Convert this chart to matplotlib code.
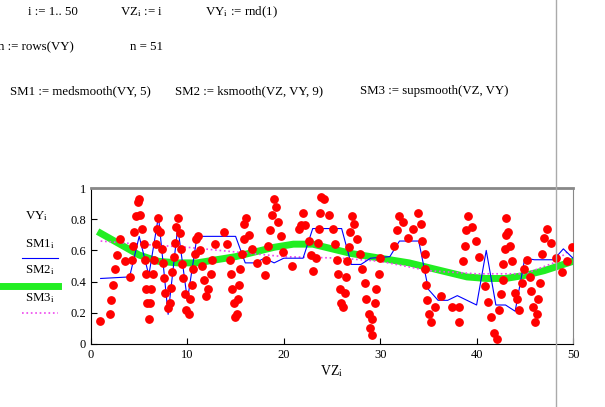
import matplotlib
matplotlib.use("Agg")
import matplotlib.pyplot as plt
from matplotlib.lines import Line2D

plt.rcParams["font.family"] = "Liberation Serif"
plt.rcParams["mathtext.fontset"] = "stix"

# scatter of VY against VZ
VZ = [0.97, 2.0, 2.1, 2.3, 2.5, 2.7, 2.97, 3.56, 4.0, 4.3, 4.4, 4.5, 4.7, 4.9, 5.0, 5.1,
      5.3, 5.5, 5.6, 5.7, 5.7, 5.8, 6.0, 6.1, 6.2, 6.4, 6.5, 6.7, 6.8, 7.0, 7.2, 7.4,
      7.5, 7.6, 7.7, 8.0, 8.15, 8.3, 8.4, 8.6, 8.7, 8.8, 9.0, 9.2, 9.3, 9.4, 9.5, 9.7,
      9.9, 10.2, 10.3, 10.5, 10.6, 10.8, 10.9, 11.1, 11.3, 11.5, 11.7, 11.9, 12.1, 12.4,
      12.6, 12.9, 13.8, 14.1, 14.4, 14.5, 14.6, 14.8, 14.9, 15.1, 15.2, 15.4, 15.5, 15.7,
      15.9, 15.9, 16.1, 16.4, 16.7, 17.2, 18.1, 18.2, 18.4, 18.6, 18.8, 18.96, 19.2, 19.4,
      19.7, 19.9, 20.8, 21.6, 21.8, 22.0, 22.2, 22.6, 22.8, 23.0, 23.3, 23.5, 23.6, 23.8,
      23.9, 24.2, 24.7, 25.1, 25.3, 25.5, 25.6, 25.8, 25.9, 26.1, 26.3, 26.5, 26.6, 26.8,
      26.9, 27.1, 27.3, 27.6, 27.9, 28.1, 28.4, 28.5, 28.8, 28.9, 29.2, 29.2, 29.5, 29.6,
      29.9, 29.96, 31.4, 31.7, 31.9, 32.4, 32.9, 33.4, 33.9, 34.2, 34.3, 34.6, 34.6, 34.7,
      34.9, 35.1, 35.3, 35.7, 36.3, 37.4, 38.2, 38.2, 38.6, 38.8, 38.9, 39.1, 39.5, 39.9,
      40.2, 40.9, 41.2, 41.5, 41.8, 42.1, 42.3, 42.5, 42.7, 42.7, 42.9, 43.0, 43.1, 43.3,
      43.5, 43.7, 44.0, 44.2, 44.4, 44.7, 44.9, 45.2, 45.5, 45.6, 45.8, 46.1, 46.3, 46.4,
      46.6, 46.8, 47.0, 47.3, 47.7, 48.2, 48.9, 49.4, 49.9]
VY = [0.15, 0.19, 0.28, 0.38, 0.48, 0.57, 0.67, 0.53, 0.43, 0.54, 0.63, 0.72, 0.82, 0.91,
      0.93, 0.83, 0.74, 0.64, 0.54, 0.45, 0.35, 0.26, 0.16, 0.26, 0.35, 0.45, 0.54, 0.64,
      0.74, 0.81, 0.72, 0.61, 0.52, 0.42, 0.33, 0.23, 0.26, 0.36, 0.46, 0.56, 0.65, 0.75,
      0.81, 0.71, 0.61, 0.51, 0.42, 0.32, 0.22, 0.19, 0.29, 0.38, 0.48, 0.58, 0.67, 0.69,
      0.60, 0.50, 0.41, 0.31, 0.35, 0.45, 0.54, 0.64, 0.72, 0.64, 0.54, 0.45, 0.35, 0.26,
      0.17, 0.19, 0.29, 0.38, 0.48, 0.58, 0.67, 0.77, 0.81, 0.70, 0.61, 0.52, 0.44, 0.54,
      0.63, 0.73, 0.83, 0.93, 0.88, 0.78, 0.69, 0.59, 0.50, 0.74, 0.76, 0.84, 0.76, 0.66,
      0.57, 0.47, 0.55, 0.65, 0.74, 0.84, 0.94, 0.93, 0.83, 0.74, 0.64, 0.54, 0.45, 0.35,
      0.26, 0.24, 0.33, 0.43, 0.53, 0.62, 0.72, 0.82, 0.77, 0.67, 0.58, 0.48, 0.39, 0.29,
      0.19, 0.10, 0.06, 0.16, 0.26, 0.35, 0.45, 0.55, 0.63, 0.73, 0.82, 0.78, 0.68, 0.74,
      0.84, 0.77, 0.66, 0.58, 0.48, 0.38, 0.28, 0.19, 0.14, 0.24, 0.31, 0.24, 0.24, 0.14,
      0.53, 0.63, 0.73, 0.82, 0.75, 0.66, 0.56, 0.37, 0.27, 0.17, 0.07, 0.03, 0.22, 0.32,
      0.41, 0.51, 0.61, 0.70, 0.81, 0.72, 0.63, 0.53, 0.33, 0.29, 0.22, 0.39, 0.48, 0.54,
      0.43, 0.34, 0.24, 0.14, 0.19, 0.29, 0.39, 0.58, 0.68, 0.74, 0.65, 0.55, 0.46, 0.53,
      0.62]

SM1_X = [1, 4, 5, 6, 7, 8, 9, 10, 11, 15, 16, 17, 18, 19, 20, 22, 23, 26, 27, 28, 29, 31,
         32, 34, 35, 36, 37, 38, 40, 41, 42, 43, 44, 45, 46, 48, 49, 50]
SM1 = [0.42, 0.43, 0.69, 0.44, 0.82, 0.19, 0.75, 0.28, 0.69, 0.69, 0.52, 0.52, 0.55, 0.52,
       0.55, 0.55, 0.74, 0.74, 0.51, 0.51, 0.55, 0.56, 0.66, 0.66, 0.35, 0.28, 0.28, 0.31,
       0.25, 0.60, 0.25, 0.25, 0.21, 0.55, 0.54, 0.54, 0.61, 0.55]

SM2_X = [1, 3, 5, 7, 9, 11, 13, 15, 17, 19, 21, 23, 25, 27, 29, 31, 33, 35, 37, 39, 41, 43,
         45, 47, 49, 50]
SM2 = [0.71, 0.64, 0.57, 0.53, 0.52, 0.52, 0.54, 0.56, 0.59, 0.62, 0.64, 0.64, 0.61, 0.58,
       0.56, 0.54, 0.52, 0.49, 0.46, 0.43, 0.42, 0.42, 0.44, 0.47, 0.51, 0.53]

SM3_X = [1, 5, 10, 15, 20, 26, 30, 35, 40, 45, 48, 50]
SM3 = [0.66, 0.64, 0.62, 0.59, 0.56, 0.55, 0.53, 0.47, 0.45, 0.45, 0.52, 0.62]

fig = plt.figure(figsize=(6.05, 4.07), dpi=100)
ax = fig.add_axes([91 / 605, 63 / 407, 482 / 605, 156 / 407])

ax.plot(SM2_X, SM2, color="#22ee22", lw=5, zorder=2)
ax.plot(SM3_X, SM3, color="#ee44ee", lw=1.2, ls=":", zorder=3)
ax.plot(SM1_X, SM1, color="#0000ff", lw=0.8, zorder=4)
ax.scatter(VZ, VY, s=28, color="#ff0000", zorder=5)

ax.set_xlim(0, 50)
ax.set_ylim(0, 1)
ax.set_xticks([0, 10, 20, 30, 40, 50])
ax.set_yticks([0, 0.2, 0.4, 0.6, 0.8, 1])
ax.set_yticklabels(["0", "0.2", "0.4", "0.6", "0.8", "1"])
ax.tick_params(direction="in", labelsize=9, length=4)
ax.spines["top"].set_color("#888888")
ax.spines["top"].set_linewidth(2)
ax.spines["right"].set_color("#888888")
ax.set_xlabel(r"VZ$_\mathrm{i}$", fontsize=10, labelpad=2)

# window edge line
fig.add_artist(Line2D([556 / 605, 556 / 605], [0, 1], color="#aaaaaa", lw=1))

def txt(x, y, s, size=9.3):
    fig.text(x / 605, 1 - y / 407, s, fontsize=size, va="center")

txt(28, 12, r"i := 1.. 50")
txt(120, 12, r"VZ$_\mathrm{i}$ := i")
txt(205, 12, r"VY$_\mathrm{i}$ := rnd(1)")
txt(-2, 47, "n := rows(VY)")
txt(130, 47, "n = 51")
txt(10, 91, "SM1 := medsmooth(VY, 5)")
txt(175, 91, "SM2 := ksmooth(VZ, VY, 9)")
txt(360, 91, "SM3 := supsmooth(VZ, VY)")

txt(25, 216, r"VY$_\mathrm{i}$")
txt(25, 244, r"SM1$_\mathrm{i}$")
txt(25, 270, r"SM2$_\mathrm{i}$")
txt(25, 298, r"SM3$_\mathrm{i}$")
fig.add_artist(Line2D([22 / 605, 58 / 605], [1 - 258 / 407] * 2, color="#0000ff", lw=0.8))
fig.add_artist(Line2D([0, 58 / 605], [1 - 286 / 407] * 2, color="#22ee22", lw=5))
fig.add_artist(Line2D([22 / 605, 58 / 605], [1 - 313 / 407] * 2, color="#ee44ee", lw=1.2, ls=":"))

fig.savefig("out.png", dpi=100)
